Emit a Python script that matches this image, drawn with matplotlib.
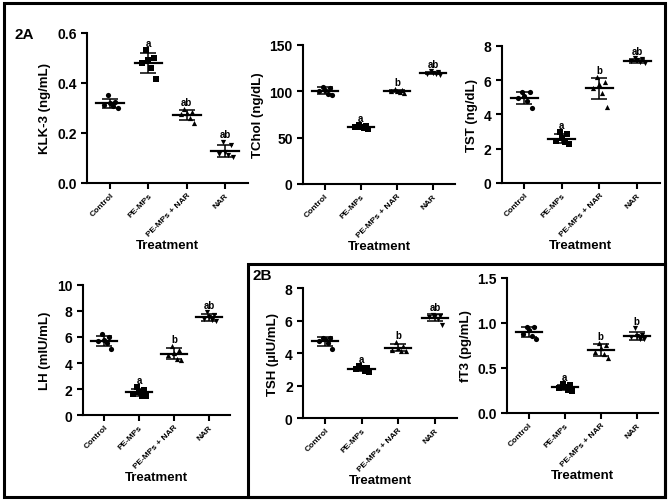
import matplotlib
matplotlib.use("Agg")
import matplotlib.pyplot as plt
from matplotlib.patches import Rectangle
import numpy as np

plt.rcParams["font.family"] = ["Liberation Sans", "DejaVu Sans"]
plt.rcParams["font.weight"] = "bold"

groups = ["Control", "PE-MPs", "PE-MPs + NAR", "NAR"]

klk3 = [[0.352, 0.325, 0.318, 0.312, 0.308, 0.300],
        [0.53, 0.50, 0.49, 0.48, 0.46, 0.415],
        [0.295, 0.285, 0.28, 0.275, 0.26, 0.24],
        [0.165, 0.15, 0.125, 0.115, 0.11, 0.105]]
tchol = [[105, 104, 101, 100, 97, 96],
         [63.5, 62.5, 62, 61, 60.5, 59.5],
         [102.5, 101, 100.5, 100, 99, 98.5],
         [121.5, 120.5, 120, 119, 118.5, 118]]
tst = [[5.3, 5.3, 5.05, 4.95, 4.8, 4.4],
       [3.0, 2.85, 2.6, 2.45, 2.4, 2.25],
       [6.2, 5.9, 5.75, 5.55, 5.25, 4.45],
       [7.3, 7.25, 7.15, 7.1, 7.05, 7.0]]
lh = [[6.2, 6.0, 5.8, 5.7, 5.55, 5.1],
      [2.15, 1.95, 1.75, 1.6, 1.5, 1.5],
      [5.3, 5.0, 4.8, 4.6, 4.3, 4.2],
      [7.95, 7.7, 7.5, 7.4, 7.3, 7.25]]
tsh = [[4.95, 4.95, 4.85, 4.75, 4.6, 4.25],
       [3.2, 3.1, 3.05, 3.0, 2.9, 2.85],
       [4.7, 4.45, 4.3, 4.2, 4.15, 4.15],
       [6.35, 6.3, 6.25, 6.2, 6.1, 5.75]]
ft3 = [[0.96, 0.95, 0.92, 0.88, 0.86, 0.82],
       [0.32, 0.31, 0.29, 0.28, 0.26, 0.24],
       [0.78, 0.75, 0.72, 0.68, 0.66, 0.61],
       [0.94, 0.87, 0.86, 0.84, 0.82, 0.82]]

klk3_sig = ["", "a", "ab", "ab"]
tchol_sig = ["", "a", "b", "ab"]
tst_sig = ["", "a", "b", "ab"]
lh_sig = ["", "a", "b", "ab"]
tsh_sig = ["", "a", "b", "ab"]
ft3_sig = ["", "a", "b", "b"]

markers = ["o", "s", "^", "v"]
jitter = [-0.06, 0.14, 0.0, -0.16, 0.08, 0.2]

fig = plt.figure(figsize=(6.69, 5.02), dpi=100)


def panel(rect, data, sig, ylabel, ylim, yticks, fmt):
    ax = fig.add_axes(rect)
    for i, vals in enumerate(data):
        vals = np.array(vals)
        m = vals.mean()
        sd = vals.std(ddof=1)
        xs = i + np.array(jitter)
        ax.scatter(xs, vals, marker=markers[i], s=14, color="black",
                   zorder=3, linewidths=0)
        ax.plot([i - 0.36, i + 0.36], [m, m], color="black", lw=1.6,
                zorder=4)
        ax.errorbar(i, m, yerr=sd, fmt="none", ecolor="black",
                    elinewidth=1.1, capsize=6, capthick=1.1, zorder=4)
        if sig[i]:
            pad = (ylim[1] - ylim[0]) * 0.015
            ax.text(i, max(m + sd, vals.max()) + pad, sig[i], ha="center",
                    va="bottom", fontsize=7, fontweight="bold")
    ax.set_xlim(-0.6, 3.6)
    ax.set_ylim(*ylim)
    ax.set_yticks(yticks)
    ax.set_yticklabels([fmt.format(v) for v in yticks], fontsize=10,
                       fontweight="bold")
    ax.set_xticks(range(len(groups)))
    ax.set_xticklabels(groups, rotation=45, ha="right",
                       rotation_mode="anchor", fontsize=6.0,
                       fontweight="bold")
    ax.set_ylabel(ylabel, fontsize=9.5, fontweight="bold", labelpad=4)
    ax.set_xlabel("Treatment", fontsize=9.5, fontweight="bold", labelpad=1)
    for s in ["top", "right"]:
        ax.spines[s].set_visible(False)
    for s in ["left", "bottom"]:
        ax.spines[s].set_linewidth(1.5)
    ax.tick_params(width=1.5, length=4)
    ax.tick_params(axis="x", pad=2)
    return ax


panel([0.130, 0.6335, 0.241, 0.299], klk3, klk3_sig, "KLK-3 (ng/mL)",
      (0, 0.6), [0.0, 0.2, 0.4, 0.6], "{:.1f}")
panel([0.453, 0.6315, 0.227, 0.277], tchol, tchol_sig, "TChol (ng/dL)",
      (0, 150), [0, 50, 100, 150], "{:d}")
panel([0.750, 0.6335, 0.236, 0.273], tst, tst_sig, "TST (ng/dL)",
      (0, 8), [0, 2, 4, 6, 8], "{:d}")
panel([0.124, 0.1713, 0.220, 0.259], lh, lh_sig, "LH (mIU/mL)",
      (0, 10), [0, 2, 4, 6, 8, 10], "{:d}")
panel([0.453, 0.1653, 0.230, 0.259], tsh, tsh_sig, "TSH (\u00b5IU/mL)",
      (0, 8), [0, 2, 4, 6, 8], "{:d}")
panel([0.758, 0.1753, 0.226, 0.269], ft3, ft3_sig, "fT3 (pg/mL)",
      (0, 1.5), [0.0, 0.5, 1.0, 1.5], "{:.1f}")

# frames
fig.add_artist(Rectangle((0.006, 0.008), 0.988, 0.984, transform=fig.transFigure,
                         fill=False, edgecolor="black", lw=2.2))
fig.add_artist(Rectangle((0.371, 0.008), 0.623, 0.464, transform=fig.transFigure,
                         fill=False, edgecolor="black", lw=2.2))

fig.text(0.022, 0.930, "2A", fontsize=11, fontweight="bold", va="center")
fig.text(0.378, 0.450, "2B", fontsize=11, fontweight="bold", va="center")

fig.savefig("out.png", dpi=100)
